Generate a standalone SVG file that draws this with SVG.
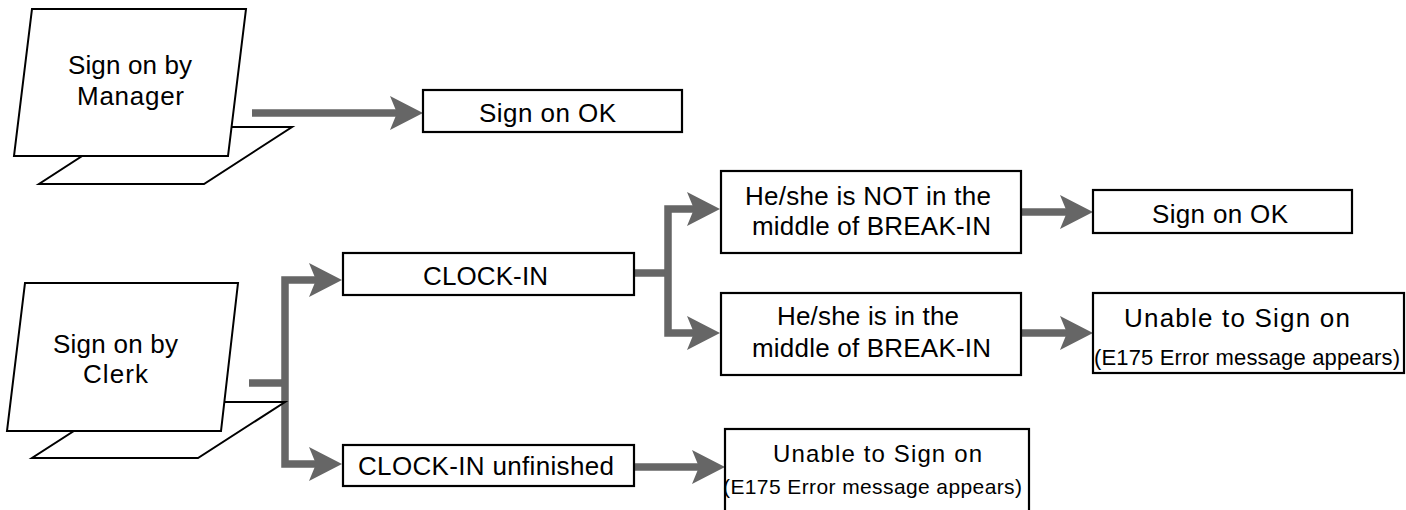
<svg xmlns="http://www.w3.org/2000/svg" width="1406" height="510" viewBox="0 0 1406 510">
<style>
  .box { fill: #ffffff; stroke: #000000; stroke-width: 2.2; }
  .scr { fill: #ffffff; stroke: #000000; stroke-width: 2; stroke-linejoin: miter; }
  .con { fill: none; stroke: #666666; stroke-width: 7.5; stroke-linejoin: miter; stroke-linecap: butt; }
  .arr { marker-end: url(#ah); }
  text { font-family: "Liberation Sans", Arial, Helvetica, sans-serif; fill: #000000; font-size: 26px; }
  .m { font-size: 24px; }
  .s { font-size: 22px; }
  .s2 { font-size: 21px; }
</style>
<defs>
  <marker id="ah" markerUnits="userSpaceOnUse" markerWidth="34" markerHeight="34" refX="7" refY="17" orient="auto">
    <path d="M0,0 L33,17 L0,34 L7,17 Z" fill="#666666"/>
  </marker>
</defs>
<rect width="1406" height="510" fill="#ffffff"/>

<g id="connectors">
  <path class="con arr" d="M252,113 H397"/>
  <path class="con" d="M249,383 H285"/>
  <path class="con arr" d="M285,383 V280 H316"/>
  <path class="con arr" d="M285,383 V464 H316"/>
  <path class="con" d="M634,273 H668"/>
  <path class="con arr" d="M668,273 V209 H694"/>
  <path class="con arr" d="M668,273 V333 H694"/>
  <path class="con arr" d="M1021,212 H1067"/>
  <path class="con arr" d="M1021,333 H1067"/>
  <path class="con arr" d="M634,467 H699"/>
</g>

<g id="manager">
  <polygon class="scr" points="127,127 292,127 204,184 39,184"/>
  <polygon class="scr" points="32,9 246,9 228,156 14,156"/>
  <text x="68" y="74" textLength="124" lengthAdjust="spacing">Sign on by</text>
  <text x="77" y="105" textLength="107" lengthAdjust="spacing">Manager</text>
</g>

<g id="clerk">
  <polygon class="scr" points="119,402 285,402 198,458 32,458"/>
  <polygon class="scr" points="25,283 238,283 221,431 7,431"/>
  <text x="53" y="353" textLength="125" lengthAdjust="spacing">Sign on by</text>
  <text x="83" y="383" textLength="65" lengthAdjust="spacing">Clerk</text>
</g>

<g id="sign-on-ok-1">
  <rect class="box" x="423" y="90" width="259" height="42"/>
  <text x="479" y="122" textLength="137" lengthAdjust="spacing">Sign on OK</text>
</g>

<g id="clock-in">
  <rect class="box" x="343" y="253" width="291" height="42"/>
  <text x="423" y="285" textLength="125" lengthAdjust="spacing">CLOCK-IN</text>
</g>

<g id="clock-in-unfinished">
  <rect class="box" x="343" y="445" width="291" height="41"/>
  <text x="358" y="475" textLength="256" lengthAdjust="spacing">CLOCK-IN unfinished</text>
</g>

<g id="not-break-in">
  <rect class="box" x="721" y="171" width="300" height="82"/>
  <text x="745" y="205" textLength="246" lengthAdjust="spacing">He/she is NOT in the</text>
  <text x="752" y="235" textLength="239" lengthAdjust="spacing">middle of BREAK-IN</text>
</g>

<g id="in-break-in">
  <rect class="box" x="721" y="293" width="300" height="82"/>
  <text x="777" y="325" textLength="182" lengthAdjust="spacing">He/she is in the</text>
  <text x="752" y="357" textLength="239" lengthAdjust="spacing">middle of BREAK-IN</text>
</g>

<g id="sign-on-ok-2">
  <rect class="box" x="1093" y="190" width="259" height="43"/>
  <text x="1152" y="223" textLength="136" lengthAdjust="spacing">Sign on OK</text>
</g>

<g id="unable-1">
  <rect class="box" x="1093" y="293" width="311" height="80"/>
  <text x="1124" y="327" textLength="226" lengthAdjust="spacing">Unable to Sign on</text>
  <text class="s" x="1094" y="365" textLength="306" lengthAdjust="spacing">(E175 Error message appears)</text>
</g>

<g id="unable-2">
  <rect class="box" x="725" y="429" width="304" height="84"/>
  <text class="m" x="773" y="462" textLength="209" lengthAdjust="spacing">Unable to Sign on</text>
  <text class="s2" x="723" y="494" textLength="299" lengthAdjust="spacing">(E175 Error message appears)</text>
</g>
</svg>
